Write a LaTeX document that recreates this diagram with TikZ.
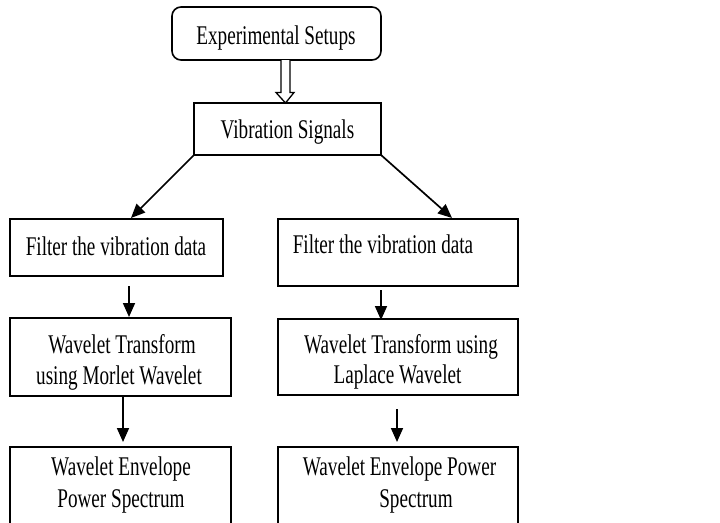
\documentclass[tikz,border=0pt]{standalone}
\usepackage{fontspec}
\setmainfont{Liberation Serif}[FakeStretch=0.71]
\usetikzlibrary{arrows.meta}
\begin{document}
\begin{tikzpicture}[x=1pt,y=-1pt,
  box/.style={draw, line width=1.6pt, outer sep=0pt, inner sep=0pt, anchor=north west},
  rbox/.style={box, rounded corners=9pt},
  txt/.style={inner sep=0pt, anchor=base, font=\fontsize{27}{31}\selectfont},
  arr/.style={line width=1.7pt, -{Triangle[length=14pt,width=12pt]}},
  hollow/.style={line width=1.3pt, fill=white, line join=miter}
]
\clip (0,0) rectangle (720,522);
\fill[white] (0,0) rectangle (720,522);

% boxes
\node[rbox, minimum width=209pt, minimum height=53pt] (exp) at (172,7) {};
\node[box, minimum width=187pt, minimum height=52pt] (vib) at (194,103) {};
\node[box, minimum width=213pt, minimum height=57pt] (fL) at (10,219) {};
\node[box, minimum width=240pt, minimum height=67pt] (fR) at (278,219) {};
\node[box, minimum width=221pt, minimum height=78pt] (wL) at (10,318) {};
\node[box, minimum width=240pt, minimum height=76pt] (wR) at (278,319) {};
\node[box, minimum width=221pt, minimum height=90pt] (eL) at (10,447) {};
\node[box, minimum width=240pt, minimum height=90pt] (eR) at (278,447) {};

% texts
\node[txt] (tExp) at (276,44) {Experimental Setups};
\node[txt] (tVib) at (287.5,138) {Vibration Signals};
\node[txt] (tfL) at (116,255) {Filter the vibration data};
\node[txt] (tfR) at (383,253) {Filter the vibration data};
\node[txt] (twL1) at (122,353) {Wavelet Transform};
\node[txt] (twL2) at (119,384) {using Morlet Wavelet};
\node[txt] (twR1) at (401,353) {Wavelet Transform using};
\node[txt] (twR2) at (397.5,383) {Laplace Wavelet};
\node[txt] (teL1) at (121,475) {Wavelet Envelope};
\node[txt] (teL2) at (121,507) {Power Spectrum};
\node[txt] (teR1) at (399.5,475) {Wavelet Envelope Power};
\node[txt] (teR2) at (416,507) {Spectrum};

% hollow arrow from exp to vib
\coordinate (hA) at (285.5,60);
\coordinate (hB) at (285.5,103);
\draw[hollow] ([xshift=-4.5pt]hA) -- ([xshift=-4.5pt,yshift=10.5pt]hB)
  -- ([xshift=-9.5pt,yshift=10.5pt]hB) -- (hB)
  -- ([xshift=8.5pt,yshift=10.5pt]hB) -- ([xshift=4.5pt,yshift=10.5pt]hB)
  -- ([xshift=4.5pt]hA);

% arrow end points
\coordinate (pL) at (131,218);
\coordinate (pR) at (452,218);
\coordinate (a1s) at (129,286);
\coordinate (a1e) at (129,317);
\coordinate (a2s) at (381,290);
\coordinate (a2e) at (381,320);
\coordinate (a3s) at (123,396);
\coordinate (a3e) at (123,442);
\coordinate (a4s) at (397,409);
\coordinate (a4e) at (397,442);

\draw[arr] (vib.south west) -- (pL);
\draw[arr] (vib.south east) -- (pR);
\draw[arr] (a1s) -- (a1e);
\draw[arr] (a2s) -- (a2e);
\draw[arr] (a3s) -- (a3e);
\draw[arr] (a4s) -- (a4e);
\end{tikzpicture}
\end{document}
